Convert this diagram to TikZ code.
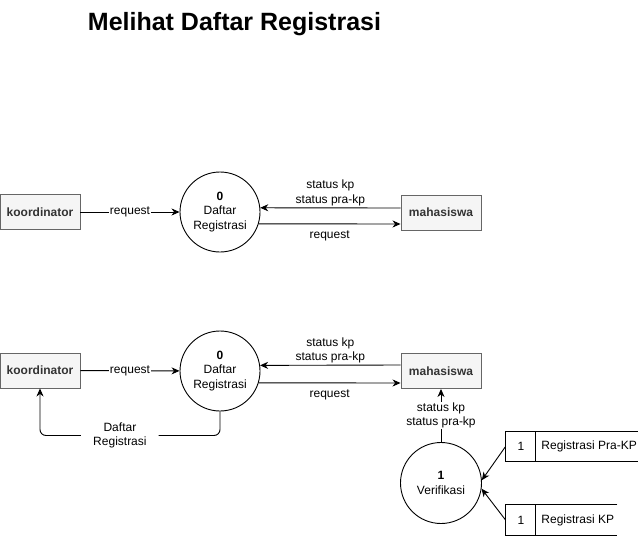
\documentclass[tikz,border=0pt]{standalone}
\usepackage{fontspec}
\setmainfont{Liberation Sans}
\usetikzlibrary{arrows.meta}
\definecolor{entfill}{HTML}{F5F5F5}
\definecolor{entdraw}{HTML}{666666}
\definecolor{enttext}{HTML}{333333}
\begin{document}
\begin{tikzpicture}[x=1pt,y=-1pt,
  font=\fontsize{12}{14.5}\selectfont,
  line width=0.9pt,
  ent/.style={draw=entdraw, fill=entfill, minimum width=80pt, minimum height=35pt,
              inner sep=0pt, text=enttext, font=\bfseries\fontsize{12}{14.5}\selectfont},
  proc/.style={circle, draw, fill=white, minimum size=80pt, inner sep=0pt, align=center},
  flow/.style={-{Stealth[length=8pt,width=7pt,inset=2.5pt]}},
  lbl/.style={fill=white, inner sep=1pt, align=center},
  lblplain/.style={inner sep=1pt, align=center},
  store/.style={minimum width=132pt, minimum height=29pt, inner sep=0pt}
]
\useasboundingbox (0,0) rectangle (638,536);

% title
\node[anchor=base, font=\bfseries\fontsize{25}{30}\selectfont] (title) at (234.5,30) {Melihat Daftar Registrasi};

% ---------- top diagram ----------
\node[ent] (k1) at (40,212) {koordinator};
\node[proc] (p1) at (220,212) {\textbf{0}\\Daftar\\Registrasi};
\node[ent] (m1) at (441,212.5) {mahasiswa};

\draw[flow] (k1) -- node[lbl] (l1) {request} (p1);
\draw[flow] ([yshift=4.5pt]m1.west) -- node[lblplain, above=0.5pt] (l2) {status kp\\status pra-kp} (p1.6.5);
\draw[flow] (p1.-17.5) -- node[lblplain, below=5pt] (l3) {request} ([yshift=-11.5pt]m1.west);

% ---------- bottom diagram ----------
\node[ent] (k2) at (40,370.5) {koordinator};
\node[proc] (p2) at (220,371) {\textbf{0}\\Daftar\\Registrasi};
\node[ent] (m2) at (441,371) {mahasiswa};

\draw[flow] (k2) -- node[lbl] (l4) {request} (p2);
\draw[flow] ([yshift=6pt]m2.west) -- node[lblplain, above=0.5pt] (l5) {status kp\\status pra-kp} (p2.8.6);
\draw[flow] (p2.-17.5) -- node[lblplain, below=5pt] (l6) {request} ([yshift=-12pt]m2.west);

\coordinate (r) at (40,435.5);
\draw[flow, rounded corners=6pt] (p2.south) |- node[lbl, pos=0.778, inner xsep=12pt] (l7) {Daftar\\Registrasi} (r) -- (k2.south);

% verifikasi
\node[proc, minimum size=81pt] (v) at (441,483) {\textbf{1}\\Verifikasi};
\draw[flow] (v.north) -- node[lbl] (l8) {status kp\\status pra-kp} (m2.south);

% data stores
\node[store] (ds1) at (572,446.5) {};
\draw (ds1.north east) -- (ds1.north west) -- (ds1.south west) -- (ds1.south east);
\draw ([xshift=30pt]ds1.north west) -- ([xshift=30pt]ds1.south west);
\node (ds1n) at (521,446.5) {1};
\node[anchor=west, inner sep=0pt] (ds1t) at (541,446.5) {Registrasi Pra-KP};

\node[store, minimum width=111pt, minimum height=30pt] (ds2) at (561.5,520) {};
\draw (ds2.north east) -- (ds2.north west) -- (ds2.south west) -- (ds2.south east);
\draw ([xshift=30pt]ds2.north west) -- ([xshift=30pt]ds2.south west);
\node (ds2n) at (521,520) {1};
\node[anchor=west, inner sep=0pt] (ds2t) at (541,520) {Registrasi KP};

\draw[flow] (ds1.west) -- (v.4.5);
\draw[flow] (ds2.west) -- (v.-8.5);
\end{tikzpicture}
\end{document}
